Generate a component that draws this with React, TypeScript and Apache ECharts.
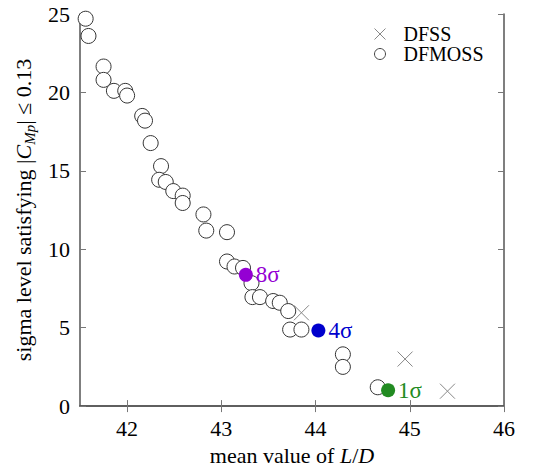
import React, { useEffect, useRef } from "react";
import * as echarts from "echarts";

const dfssX = [43.85, 44.95, 45.4];
const dfssY = [5.95, 3.0, 0.95];

const dfmossX = [41.56, 41.59, 41.75, 41.75, 41.86, 41.98, 42.0, 42.16, 42.19, 42.25, 42.36, 42.34, 42.41, 42.49, 42.59, 42.59, 42.81, 42.84, 43.06, 43.06, 43.14, 43.23, 43.32, 43.33, 43.41, 43.55, 43.62, 43.71, 43.73, 43.85, 44.29, 44.29, 44.66];
const dfmossY = [24.7, 23.6, 21.65, 20.8, 20.1, 20.1, 19.8, 18.5, 18.2, 16.77, 15.3, 14.43, 14.29, 13.71, 13.42, 12.95, 12.22, 11.19, 11.09, 9.22, 8.9, 8.81, 7.84, 6.95, 6.95, 6.7, 6.59, 6.06, 4.88, 4.88, 3.3, 2.5, 1.2];

const hiLabels = ["8σ", "4σ", "1σ"];
const hiX = [43.26, 44.03, 44.77];
const hiY = [8.37, 4.82, 1.01];
const hiColors = ["#9400d3", "#0000cd", "#228b22"];

const xTicks = [42, 43, 44, 45, 46];
const FONT = "Liberation Serif";
const FS = 22;

const crossPath = "path://M0,0L10,10M10,0L0,10";

export default function App() {
  const ref = useRef<HTMLDivElement>(null);
  useEffect(() => {
    if (!ref.current) return;
    const chart = echarts.init(ref.current, undefined, { renderer: "svg" });
    const axisLine = { show: true, lineStyle: { color: "#555", width: 1.5 } };
    const hiSeries = hiLabels.map((lab, i) => ({
      name: lab,
      type: "scatter",
      data: [[hiX[i], hiY[i]]],
      symbol: "circle",
      symbolSize: 14,
      itemStyle: { color: hiColors[i], opacity: 1 },
      label: {
        show: true,
        position: "right",
        distance: 3,
        fontFamily: FONT,
        formatter: "{a|" + lab + "}",
        rich: { a: { color: hiColors[i], fontSize: 23, fontFamily: FONT } },
      },
      z: 5,
    }));
    chart.setOption({
      animation: false,
      textStyle: { fontFamily: FONT },
      grid: { left: 80, right: 38, top: 14, bottom: 54 },
      legend: {
        data: [
          { name: "DFSS", icon: crossPath, itemStyle: { color: "none", borderColor: "#888", borderWidth: 1 } },
          { name: "DFMOSS", icon: "circle", itemStyle: { color: "#fff", borderColor: "#444", borderWidth: 1 } },
        ],
        orient: "vertical",
        left: 367,
        top: 19,
        itemWidth: 11,
        itemHeight: 11,
        itemGap: 0,
        formatter: (n: string) => "{a|" + n + "}",
        textStyle: { fontFamily: FONT, rich: { a: { fontSize: 20, fontFamily: FONT, color: "#000", padding: [0, 0, 0, 13], lineHeight: 21 } } },
      },
      xAxis: [
        {
          type: "value",
          min: 41.5,
          max: 46,
          name: "{t|mean value of }{i|L}{t|/}{i|D}",
          nameLocation: "middle",
          nameGap: 32,
          nameTextStyle: {
            rich: {
              t: { fontSize: FS, fontFamily: FONT, color: "#000" },
              i: { fontSize: FS, fontFamily: FONT, fontStyle: "italic", color: "#000" },
            },
          },
          axisLine,
          axisTick: { show: true, inside: true, length: 6, customValues: xTicks, lineStyle: { color: "#777" } },
          axisLabel: {
            customValues: xTicks,
            margin: 11,
            fontFamily: FONT,
            formatter: (v: number) => "{a|" + v + "}",
            rich: { a: { fontSize: FS, fontFamily: FONT, color: "#000" } },
          },
          splitLine: { show: false },
        },
        {
          type: "value",
          position: "top",
          min: 41.5,
          max: 46,
          axisLine,
          axisTick: { show: true, inside: true, length: 6, customValues: xTicks, lineStyle: { color: "#777" } },
          axisLabel: { show: false },
          splitLine: { show: false },
        },
      ],
      yAxis: [
        {
          type: "value",
          min: 0,
          max: 25,
          interval: 5,
          name: "{t|sigma level satisfying |}{i|C}{s|Mp}{t|| ≤ 0.13}",
          nameLocation: "middle",
          nameGap: 42,
          nameTextStyle: {
            rich: {
              t: { fontSize: FS, fontFamily: FONT, color: "#000", lineHeight: 28, verticalAlign: "middle" },
              i: { fontSize: FS, fontFamily: FONT, fontStyle: "italic", color: "#000", lineHeight: 28, verticalAlign: "middle" },
              s: { fontSize: 15, fontFamily: FONT, fontStyle: "italic", color: "#000", lineHeight: 28, verticalAlign: "bottom", padding: [10, 0, 0, 0] },
            },
          },
          axisLine,
          axisTick: { show: true, inside: true, length: 6, lineStyle: { color: "#777" } },
          axisLabel: {
            margin: 10,
            fontFamily: FONT,
            formatter: (v: number) => "{a|" + v + "}",
            rich: { a: { fontSize: FS, fontFamily: FONT, color: "#000" } },
          },
          splitLine: { show: false },
        },
        {
          type: "value",
          position: "right",
          min: 0,
          max: 25,
          interval: 5,
          axisLine,
          axisTick: { show: true, inside: true, length: 6, lineStyle: { color: "#777" } },
          axisLabel: { show: false },
          splitLine: { show: false },
        },
      ],
      series: [
        {
          name: "DFSS",
          type: "scatter",
          data: dfssX.map((x, i) => [x, dfssY[i]]),
          symbol: crossPath,
          symbolSize: 15,
          itemStyle: { color: "none", borderColor: "#888", borderWidth: 1, opacity: 1 },
        },
        {
          name: "DFMOSS",
          type: "scatter",
          data: dfmossX.map((x, i) => [x, dfmossY[i]]),
          symbol: "circle",
          symbolSize: 15,
          itemStyle: { color: "#fff", borderColor: "#333", borderWidth: 1, opacity: 1 },
        },
        ...hiSeries,
      ],
    });
    return () => chart.dispose();
  }, []);
  return <div ref={ref} style={{ width: 542, height: 471, position: "absolute", left: 0, top: 0 }} />;
}
